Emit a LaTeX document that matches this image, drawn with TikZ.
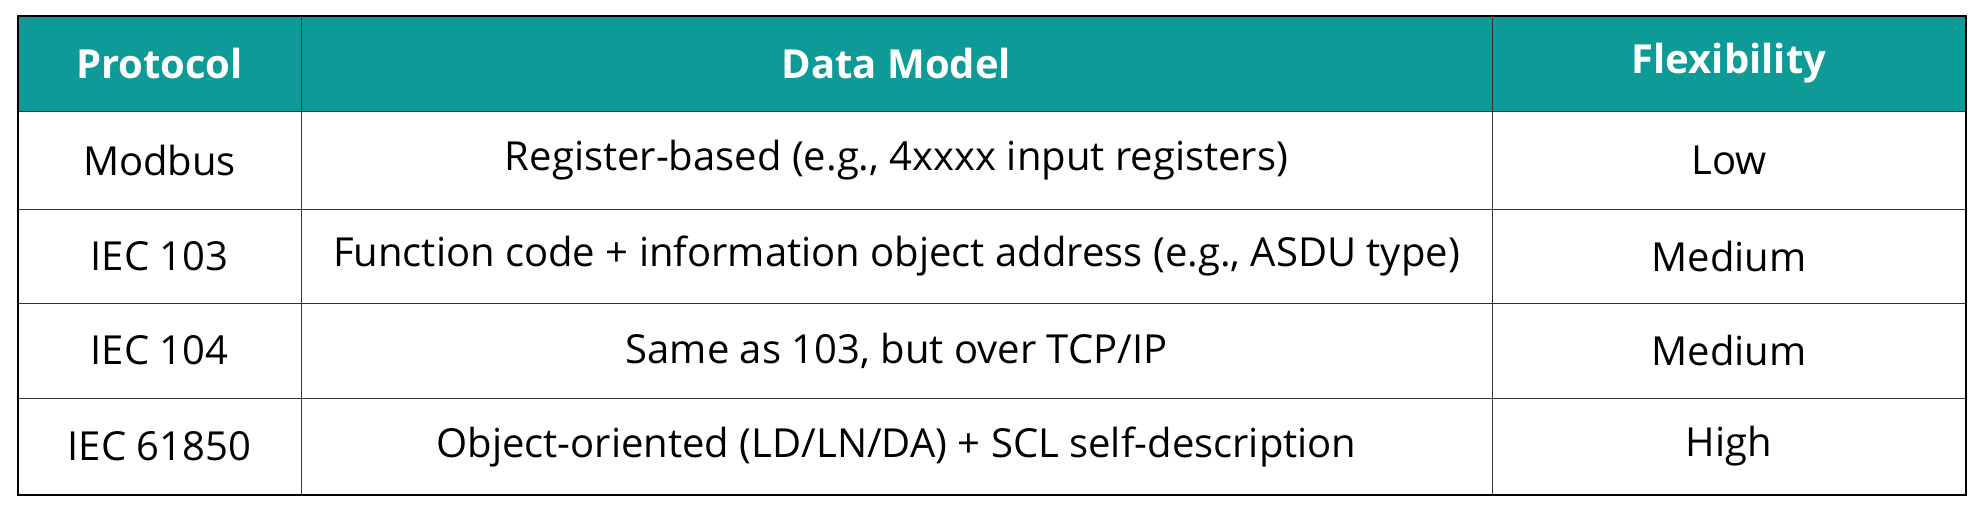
\documentclass[tikz,border=0pt]{standalone}
\usepackage{fontspec}
\setmainfont{Open Sans}
\definecolor{teal1}{HTML}{0E9A97}
\begin{document}
\begin{tikzpicture}[x=1pt,y=-1pt,
 cell/.style={font=\fontsize{40}{48}\selectfont},
 head/.style={font=\fontsize{40}{48}\selectfont\bfseries,text=white}]
\useasboundingbox (0,0) rectangle (1982,512);
\fill[teal1] (18,16) rectangle (1966,111);
\foreach \y in {111,209,303,398} \draw[line width=1pt,black!80] (18,\y) -- (1966,\y);
\draw[line width=1.2pt] (18,16) rectangle (1966,495);
\draw[line width=1pt,black!80] (301,16) -- (301,495) (1492,16) -- (1492,495);
\node[head] (h1) at (159.5,63.5) {Protocol};
\node[head] (h2) at (896.5,63.5) {Data Model};
\node[head] (h3) at (1729,63.5) {Flexibility};
\node[cell] (a1) at (159.5,160) {Modbus};
\node[cell] (b1) at (896.5,160) {Register-based (e.g., 4xxxx input registers)};
\node[cell] (c1) at (1729,160) {Low};
\node[cell] (a2) at (159.5,256) {IEC 103};
\node[cell] (b2) at (896.5,256) {Function code + information object address (e.g., ASDU type)};
\node[cell] (c2) at (1729,256) {Medium};
\node[cell] (a3) at (159.5,350.5) {IEC 104};
\node[cell] (b3) at (896.5,350.5) {Same as 103, but over TCP/IP};
\node[cell] (c3) at (1729,350.5) {Medium};
\node[cell] (a4) at (159.5,446.5) {IEC 61850};
\node[cell] (b4) at (896.5,446.5) {Object-oriented (LD/LN/DA) + SCL self-description};
\node[cell] (c4) at (1729,446.5) {High};
\end{tikzpicture}
\end{document}
